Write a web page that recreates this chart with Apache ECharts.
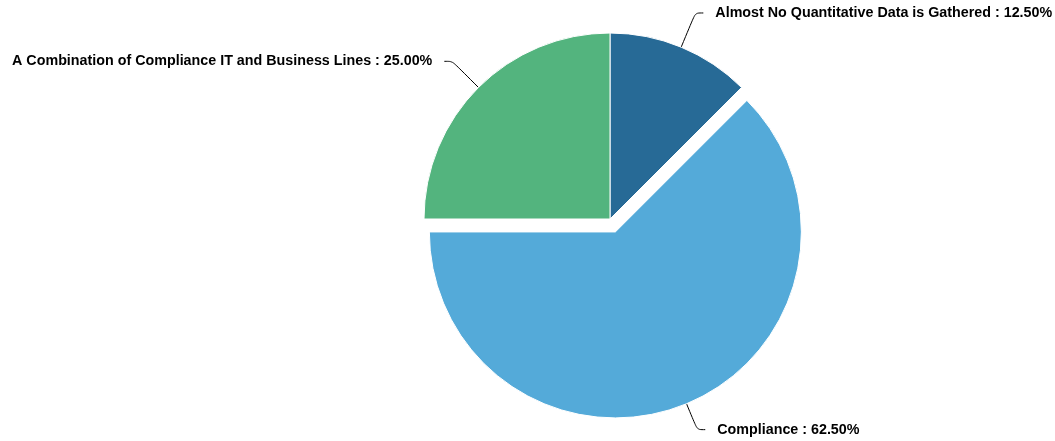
<!DOCTYPE html>
<html>
<head>
<meta charset="utf-8">
<script src="https://cdn.jsdelivr.net/npm/echarts@6/dist/echarts.min.js"></script>
<style>
  html, body { margin: 0; padding: 0; background: #ffffff; }
  #chart { width: 1055px; height: 441px; }
</style>
</head>
<body>
<div id="chart"></div>
<script>
// Who gathers the quantitative data
const categories = [
  'Almost No Quantitative Data is Gathered',
  'Compliance',
  'A Combination of Compliance IT and Business Lines'
];
const shares = [12.5, 62.5, 25];
const colors = ['#276a96', '#54aad9', '#53b47e'];
const explodedCategory = 'Compliance';

const chart = echarts.init(document.getElementById('chart'), null, { renderer: 'canvas' });

chart.setOption({
  animation: false,
  series: [{
    type: 'pie',
    center: [610, 219],
    radius: [0, 186],
    startAngle: 90,
    clockwise: true,
    selectedMode: 'single',
    selectedOffset: 14,
    avoidLabelOverlap: false,
    itemStyle: { borderColor: '#ffffff', borderWidth: 1 },
    label: {
      show: true,
      formatter: p => p.name + ' : ' + p.percent.toFixed(2) + '%',
      color: '#000000',
      fontFamily: 'Arial, "Liberation Sans", sans-serif',
      fontSize: 14.3,
      fontWeight: 'bold',
      padding: [8, 0, 0, 0],
      distanceToLabelLine: 12
    },
    labelLine: {
      show: true,
      length: 37,
      length2: 8,
      smooth: 0.3,
      lineStyle: { color: '#000000', width: 1 }
    },
    emphasis: { disabled: true },
    data: categories.map((name, i) => ({
      name: name,
      value: shares[i],
      selected: name === explodedCategory,
      labelLine: name === explodedCategory ? { length: 28 } : undefined,
      itemStyle: { color: colors[i] }
    }))
  }]
});
</script>
</body>
</html>
